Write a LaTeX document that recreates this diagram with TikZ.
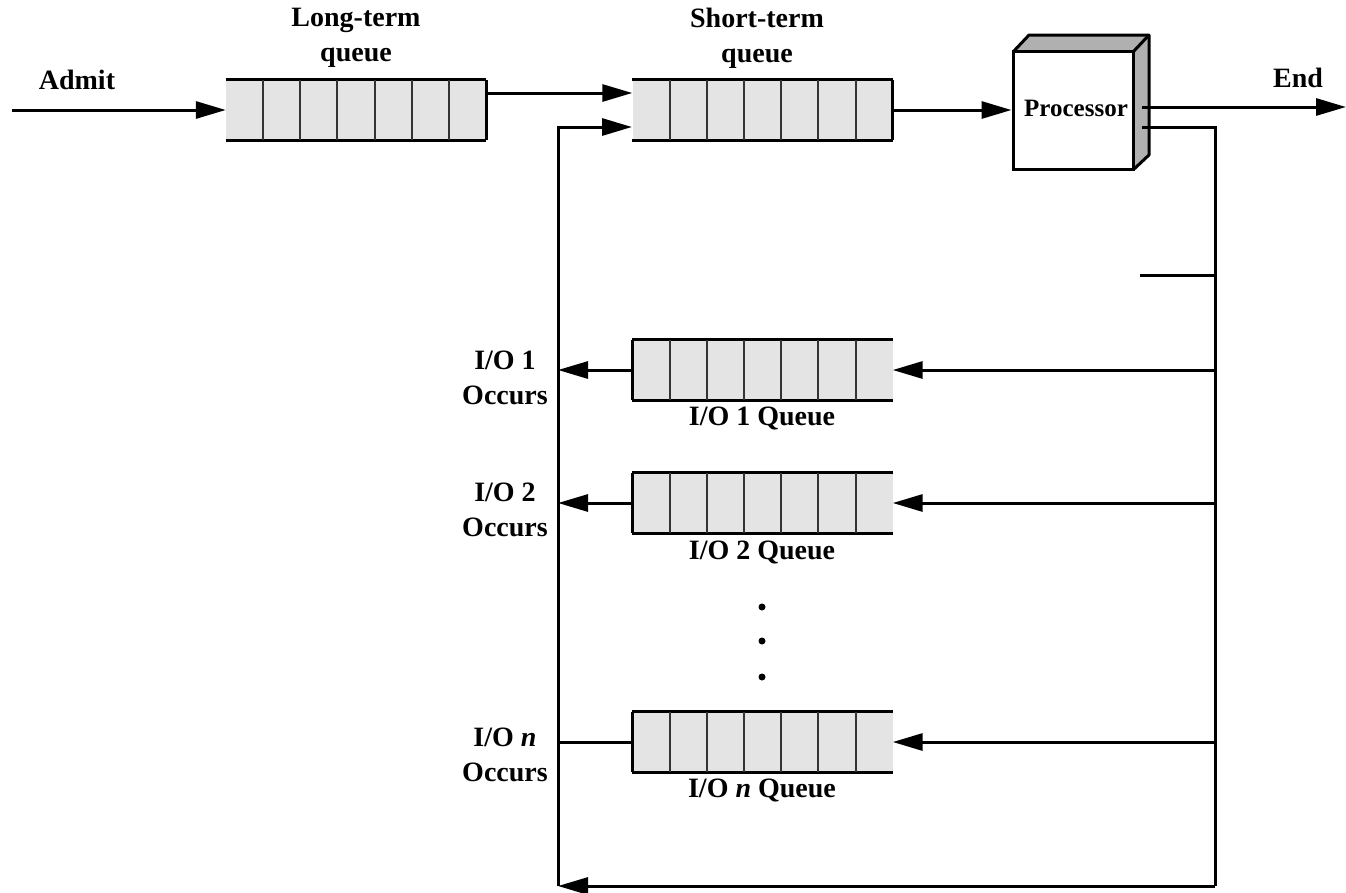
\documentclass[tikz,border=0pt]{standalone}
\usepackage{fontspec}
\setmainfont{Liberation Serif}
\usetikzlibrary{arrows.meta,calc}
\definecolor{qgray}{HTML}{E4E4E4}
\definecolor{pgray}{HTML}{B0B0B0}
\tikzset{
  wire/.style={line width=3pt},
  arr/.style={wire,-{Triangle[length=30pt,width=17pt]}},
  qbox/.style={fill=qgray,draw=none,minimum width=260pt,minimum height=60pt,inner sep=0pt},
  lbl/.style={font=\bfseries\fontsize{28}{35}\selectfont,align=center,inner sep=0pt},
  plbl/.style={font=\bfseries\fontsize{25}{28}\selectfont,inner sep=0pt},
}
\newcommand\qlines[2]{%
  \draw[wire] (#1.north west) -- (#1.north east) (#1.south west) -- (#1.south east) (#1.north #2) -- (#1.south #2);
  \foreach \i in {1,...,6}
    \draw[line width=2pt,black!80] ($(#1.north west)!\i/7!(#1.north east)$) -- ($(#1.south west)!\i/7!(#1.south east)$);
}
\begin{document}
\begin{tikzpicture}[x=1pt,y=-1pt]
\useasboundingbox (0,0) rectangle (1346,892);
% queues
\node[qbox] (lq) at (356,110) {};
\node[qbox] (sq) at (762.5,110) {};
\node[qbox] (io1) at (762.5,370) {};
\node[qbox] (io2) at (762.5,503) {};
\node[qbox] (ion) at (762.5,742) {};
\qlines{lq}{east}
\qlines{sq}{east}
\qlines{io1}{west}
\qlines{io2}{west}
\qlines{ion}{west}
% processor
\fill[pgray] (1013,52) -- (1029,35) -- (1149,35) -- (1149,155) -- (1133,170) -- cycle;
\draw[wire,line join=round] (1013,52) -- (1029,35) -- (1149,35) -- (1149,155) -- (1133,170);
\draw[wire] (1133,52) -- (1149,35);
\node[draw,line width=3pt,fill=white,minimum width=120pt,minimum height=118pt,inner sep=0pt] (proc) at (1073,110) {};
\node[plbl] (ptxt) at (1076,108) {Processor};
% coordinates
\coordinate (admit) at (12,110);
\coordinate (endp) at (1346,107);
\coordinate (pout1) at (1142,107);
\coordinate (pout2) at (1142,127);
\coordinate (rtop) at (1215,127);
\coordinate (rbot) at (1215,886);
\coordinate (lbot) at (558,886);
\coordinate (ltop) at (558,127);
\coordinate (sqin2) at (632,127);
\coordinate (stubL) at (1140,275);
\coordinate (stubR) at (1215,275);
% connectors
\draw[arr] (admit) -- (lq.west);
\draw[arr] ($(lq.east)+(0,-17)$) -- ($(sq.west)+(0,-17)$);
\draw[arr] (sq.east) -- (proc.west);
\draw[arr] (pout1) -- (endp);
\draw[wire] (pout2) -- (rtop) -- (rbot);
\draw[arr] (rbot) -- (lbot);
\draw[arr] (lbot) -- (ltop) -- (sqin2);
\draw[wire] (stubL) -- (stubR);
\draw[arr] (1215,370) -- (io1.east);
\draw[arr] (1215,503) -- (io2.east);
\draw[arr] (1215,742) -- (ion.east);
\draw[arr] (io1.west) -- (558,370);
\draw[arr] (io2.west) -- (558,503);
\draw[wire] (ion.west) -- (558,742);
% labels
\node[lbl] (ltl) at (356,38) {Long-term\\queue};
\node[lbl] (stl) at (757,38) {Short-term\\queue};
\node[lbl] (adl) at (77,80) {Admit};
\node[lbl] (enl) at (1298,78) {End};
\node[lbl] (o1) at (505,378) {I/O 1\\Occurs};
\node[lbl] (o2) at (505,510) {I/O 2\\Occurs};
\node[lbl] (on) at (505,755) {I/O \textit{n}\\Occurs};
\node[lbl] (q1) at (762,418) {I/O 1 Queue};
\node[lbl] (q2) at (762,552) {I/O 2 Queue};
\node[lbl] (qn) at (762,790) {I/O \textit{n} Queue};
\foreach \y/\n in {607/d1,641/d2,677/d3}
  \fill (762,\y) circle (3.5pt) coordinate (\n);
\end{tikzpicture}
\end{document}
